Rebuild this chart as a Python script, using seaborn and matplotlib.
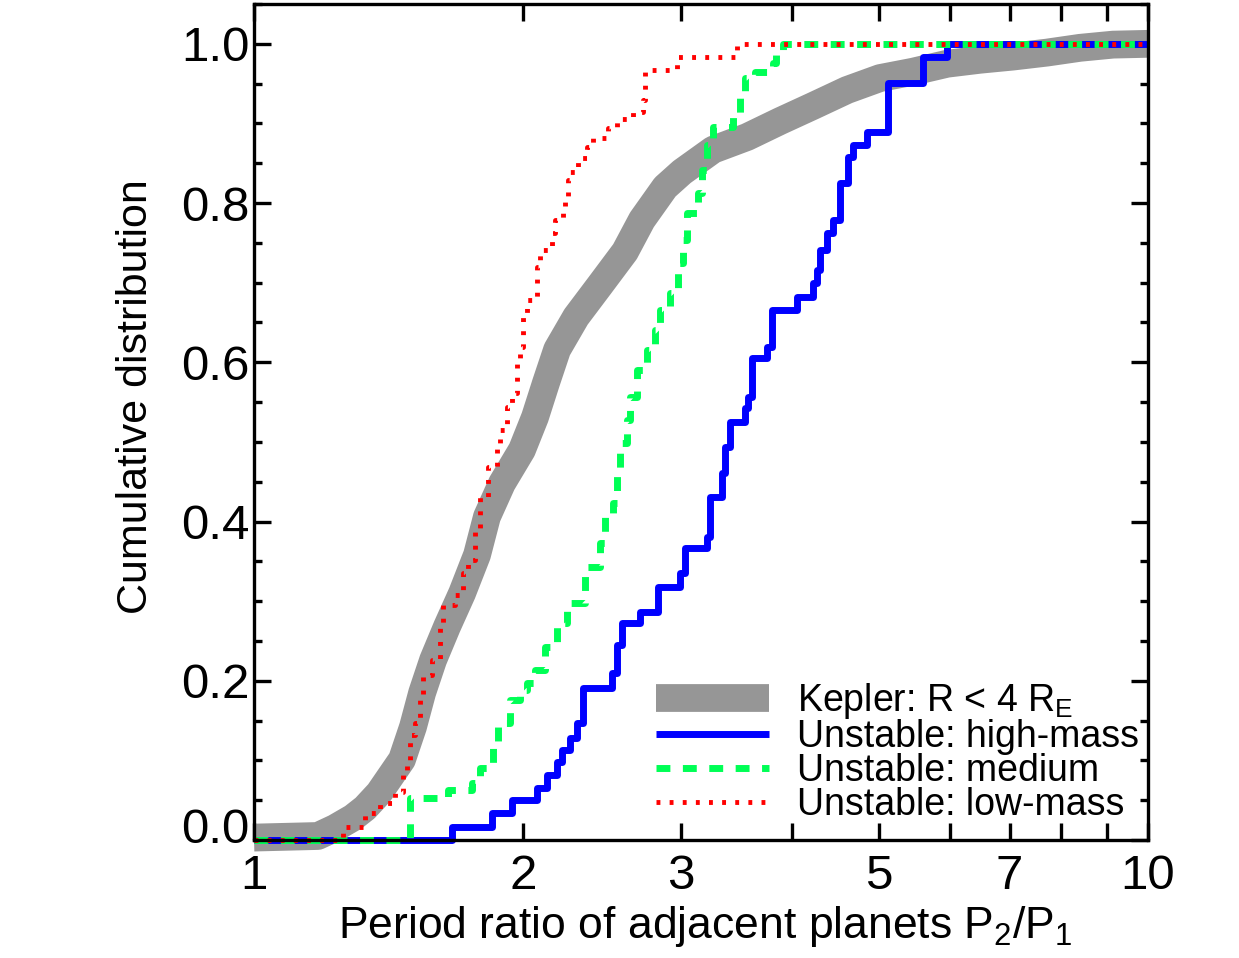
import numpy as np
import pandas as pd
import matplotlib
matplotlib.use('Agg')
import matplotlib.pyplot as plt
import matplotlib.transforms as mtransforms
from matplotlib.ticker import FixedLocator, FixedFormatter, NullLocator, MultipleLocator
import seaborn as sns

# Kepler pairs (R < 4 R_E): cumulative distribution
kepler_ratio = [1.0, 1.179, 1.232, 1.290, 1.331, 1.380, 1.464, 1.506, 1.542, 1.586,
                1.644, 1.709, 1.776, 1.822, 1.894, 1.994, 2.062, 2.121, 2.183, 2.292,
                2.438, 2.600, 2.716, 2.883, 3.011, 3.262, 3.561, 3.877, 4.220, 4.606,
                5.014, 5.459, 5.960, 6.487, 7.063, 7.709, 8.393, 9.139, 10.0]
kepler_cdf = [0.003, 0.005, 0.015, 0.028, 0.040, 0.059, 0.101, 0.142, 0.185, 0.226,
              0.268, 0.310, 0.358, 0.406, 0.448, 0.490, 0.531, 0.574, 0.616, 0.657,
              0.697, 0.739, 0.779, 0.820, 0.839, 0.867, 0.883, 0.903, 0.922, 0.942,
              0.957, 0.965, 0.975, 0.980, 0.984, 0.989, 0.995, 0.999, 1.0]

# unstable runs: period ratio at each step and the CDF level after it
high_ratio = [1.0, 1.665, 1.846, 1.943, 2.073, 2.127, 2.183, 2.211, 2.257, 2.298,
              2.333, 2.514, 2.547, 2.580, 2.703, 2.831, 2.996, 3.035, 3.211, 3.236,
              3.338, 3.363, 3.407, 3.541, 3.569, 3.605, 3.748, 3.796, 4.050, 4.220,
              4.264, 4.296, 4.374, 4.443, 4.524, 4.618, 4.677, 4.849, 5.119, 5.601,
              5.960, 10.0]
high_cdf = [0.0, 0.016, 0.034, 0.050, 0.065, 0.082, 0.098, 0.113, 0.128, 0.147,
            0.191, 0.210, 0.245, 0.273, 0.286, 0.318, 0.335, 0.367, 0.381, 0.431,
            0.461, 0.494, 0.525, 0.543, 0.557, 0.606, 0.619, 0.666, 0.682, 0.700,
            0.716, 0.741, 0.763, 0.779, 0.825, 0.858, 0.873, 0.889, 0.951, 0.984,
            1.0, 1.0]

med_ratio = [1.0, 1.494, 1.648, 1.753, 1.789, 1.851, 1.875, 1.934, 1.984, 2.020,
             2.062, 2.116, 2.183, 2.239, 2.346, 2.438, 2.470, 2.521, 2.547, 2.567,
             2.614, 2.634, 2.682, 2.752, 2.809, 2.846, 2.920, 2.981, 3.019, 3.050,
             3.138, 3.171, 3.211, 3.262, 3.434, 3.497, 3.541, 3.634, 3.806, 3.836,
             3.906, 10.0]
med_cdf = [0.0, 0.053, 0.063, 0.072, 0.090, 0.119, 0.147, 0.176, 0.188, 0.197,
           0.214, 0.242, 0.273, 0.298, 0.343, 0.373, 0.406, 0.423, 0.465, 0.499,
           0.528, 0.557, 0.590, 0.616, 0.641, 0.666, 0.687, 0.725, 0.754, 0.788,
           0.813, 0.842, 0.873, 0.896, 0.913, 0.936, 0.957, 0.965, 0.976, 0.989,
           1.0, 1.0]

low_ratio = [1.0, 1.258, 1.331, 1.383, 1.438, 1.468, 1.483, 1.494, 1.514, 1.534,
             1.545, 1.582, 1.615, 1.627, 1.678, 1.713, 1.735, 1.767, 1.790, 1.827,
             1.870, 1.884, 1.919, 1.943, 1.969, 1.984, 2.000, 2.020, 2.073, 2.089,
             2.154, 2.171, 2.216, 2.228, 2.245, 2.257, 2.304, 2.358, 2.394, 2.489,
             2.547, 2.654, 2.723, 2.738, 2.973, 3.469, 10.0]
low_cdf = [0.0, 0.016, 0.034, 0.046, 0.060, 0.082, 0.101, 0.132, 0.147, 0.182,
           0.207, 0.226, 0.268, 0.295, 0.308, 0.335, 0.352, 0.389, 0.431, 0.469,
           0.494, 0.515, 0.544, 0.562, 0.599, 0.619, 0.657, 0.678, 0.720, 0.741,
           0.763, 0.779, 0.789, 0.804, 0.829, 0.839, 0.857, 0.871, 0.882, 0.894,
           0.905, 0.915, 0.930, 0.967, 0.984, 1.0, 1.0]

x_ticks = [1, 2, 3, 4, 5, 6, 7, 8, 9, 10]
x_tick_labels = ['1', '2', '3', '', '5', '', '7', '', '', '10']
y_ticks = [0.0, 0.2, 0.4, 0.6, 0.8, 1.0]
y_tick_labels = ['0.0', '0.2', '0.4', '0.6', '0.8', '1.0']

sns.set_style('ticks')
plt.rcParams['font.family'] = ['Liberation Sans', 'DejaVu Sans']
plt.rcParams['axes.linewidth'] = 2.4
plt.rcParams['axes.edgecolor'] = 'black'
plt.rcParams['text.color'] = 'black'
plt.rcParams['axes.labelcolor'] = 'black'
plt.rcParams['xtick.color'] = 'black'
plt.rcParams['ytick.color'] = 'black'

fig = plt.figure(figsize=(12.39, 9.58), dpi=100)
ax = fig.add_axes([0.2050, 0.1232, 0.7216, 0.8726])

sns.lineplot(x=kepler_ratio, y=kepler_cdf, ax=ax, color='#969696', lw=20,
             solid_capstyle='butt', estimator=None, sort=False, clip_on=False,
             label=r'Kepler: R < 4 R$_\mathregular{E}$')
sns.lineplot(x=high_ratio, y=high_cdf, ax=ax, color='#0000ff', lw=5,
             drawstyle='steps-post', solid_capstyle='butt', estimator=None,
             sort=False, clip_on=False, label='Unstable: high-mass')
sns.lineplot(x=med_ratio, y=med_cdf, ax=ax, color='#00ff55', lw=5,
             drawstyle='steps-post', dashes=False, estimator=None, sort=False,
             clip_on=False, label='Unstable: medium')
sns.lineplot(x=low_ratio, y=low_cdf, ax=ax, color='#ff0000', lw=3.5,
             drawstyle='steps-post', dashes=False, estimator=None, sort=False,
             clip_on=False, label='Unstable: low-mass')
ax.lines[2].set_dashes((2.0, 1.8))
ax.lines[3].set_dashes((0.8, 1.9))

ax.set_xscale('log')
ax.set_xlim(1, 10)
ax.set_ylim(0, 1.05)
ax.xaxis.set_major_locator(FixedLocator(x_ticks))
ax.xaxis.set_major_formatter(FixedFormatter(x_tick_labels))
ax.xaxis.set_minor_locator(NullLocator())
ax.yaxis.set_major_locator(FixedLocator(y_ticks))
ax.yaxis.set_major_formatter(FixedFormatter(y_tick_labels))
ax.yaxis.set_minor_locator(MultipleLocator(0.05))
ax.tick_params(which='both', direction='in', top=True, right=True, width=2.4,
               color='black', labelcolor='black')
ax.tick_params(which='major', length=12, labelsize=35.5)
ax.tick_params(axis='x', which='major', pad=10)
ax.tick_params(axis='y', which='major', pad=3)
ax.tick_params(which='minor', length=6)
for s in ax.spines.values():
    s.set_linewidth(2.4)
    s.set_color('black')

ax.set_xlabel(r'Period ratio of adjacent planets P$_\mathregular{2}$/P$_\mathregular{1}$',
              fontsize=32, color='black')
ax.set_ylabel('Cumulative distribution', fontsize=31, color='black')
ax.xaxis.set_label_coords(0.505, -0.076)
ax.yaxis.set_label_coords(-0.11, 0.53)

# lift the 0.0 label a little, as in the original
lab0 = ax.yaxis.get_major_ticks()[0].label1
lab0.set_transform(lab0.get_transform() +
                   mtransforms.ScaledTranslation(0, 0.14, fig.dpi_scale_trans))

leg = ax.legend(loc='lower right', bbox_to_anchor=(0.99, 0.02), frameon=False,
                fontsize=27, handlelength=3.0, handletextpad=0.75,
                labelspacing=-0.05, borderpad=0, borderaxespad=0,
                labelcolor='black')

fig.savefig('out.png', dpi=100)
